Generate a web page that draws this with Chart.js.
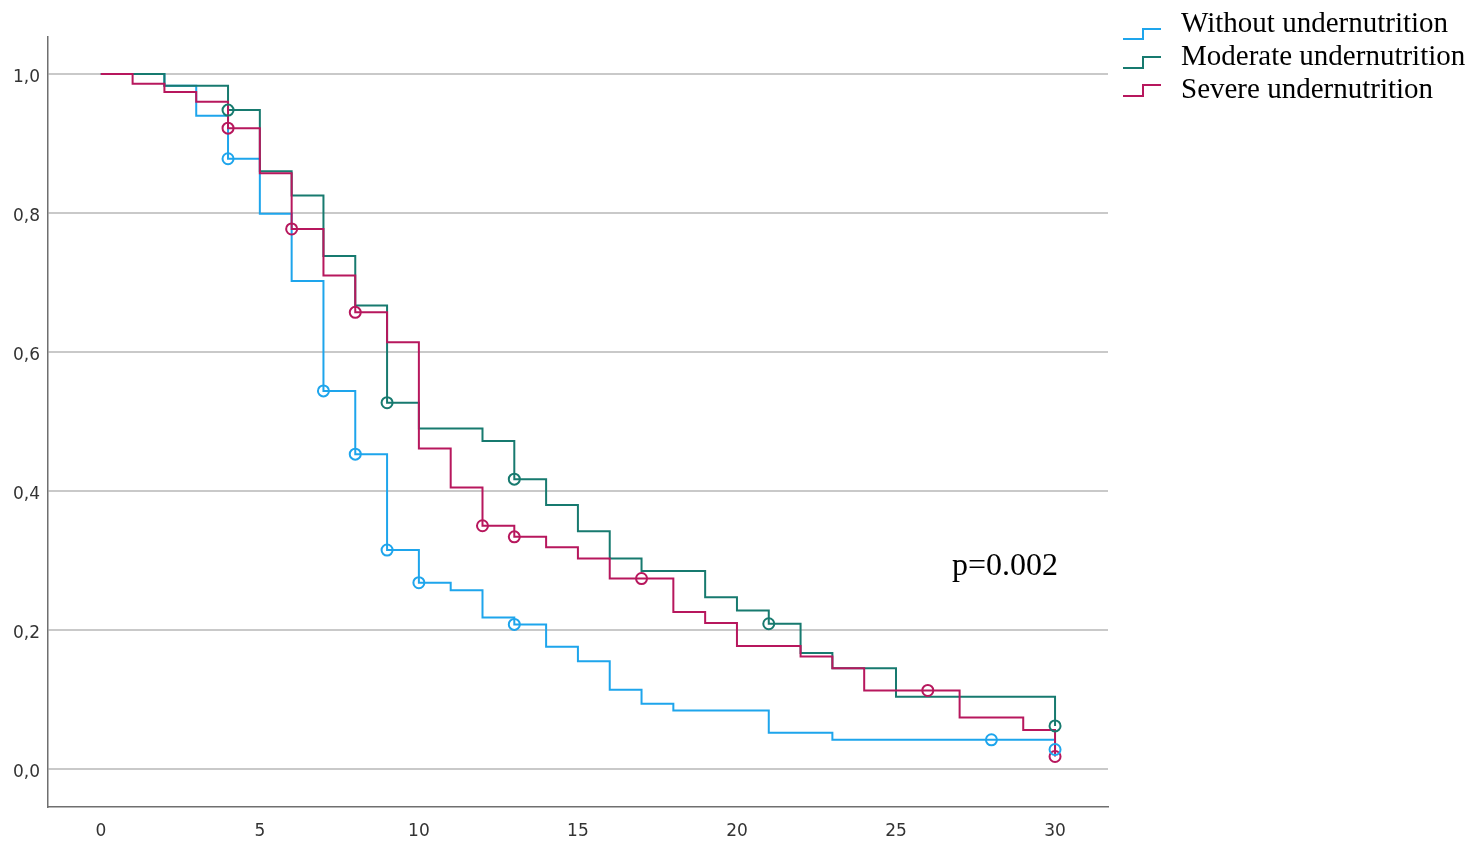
<!DOCTYPE html>
<html>
<head>
<meta charset="utf-8">
<script src="https://cdn.jsdelivr.net/npm/chart.js@4"></script>
<style>
html,body{margin:0;padding:0;background:#fff;}
#wrap{position:relative;width:1482px;height:843px;overflow:hidden;}
#c{position:absolute;left:0;top:0;}
.leg{position:absolute;left:1181px;font-family:"Liberation Serif","Times New Roman",serif;font-size:29px;line-height:29px;color:#000;white-space:nowrap;}
.pv{position:absolute;left:952px;top:548px;font-family:"Liberation Serif","Times New Roman",serif;font-size:32px;line-height:32px;color:#000;white-space:nowrap;}
#icons{position:absolute;left:0;top:0;}
</style>
</head>
<body>
<div id="wrap">
<canvas id="c" width="1482" height="843"></canvas>
<svg id="icons" width="1482" height="120">
  <polyline points="1123,39 1143,39 1143,29 1161,29" fill="none" stroke="#1ea5ec" stroke-width="2"/>
  <polyline points="1123,68 1143,68 1143,57 1161,57" fill="none" stroke="#177a6f" stroke-width="2"/>
  <polyline points="1123,96 1143,96 1143,85 1161,85" fill="none" stroke="#b7175d" stroke-width="2"/>
</svg>
<div class="leg" style="top:8px">Without undernutrition</div>
<div class="leg" style="top:41px">Moderate undernutrition</div>
<div class="leg" style="top:74px">Severe undernutrition</div>
<div class="pv">p=0.002</div>
</div>
<script>
// ---- data ----
const seriesNames = ["Without undernutrition", "Moderate undernutrition", "Severe undernutrition"];

const timesWithout = [0, 2, 3, 4, 5, 6, 7, 8, 9, 10, 11, 12, 13, 14, 15, 16, 17, 18, 21, 23, 30];
const survWithout  = [1.0, 0.983, 0.94, 0.878, 0.799, 0.702, 0.544, 0.453, 0.315, 0.268, 0.257, 0.218, 0.208, 0.176, 0.155, 0.114, 0.094, 0.084, 0.052, 0.042, 0.028];
const censTimesWithout = [4, 7, 8, 9, 10, 13, 28, 30];
const censSurvWithout  = [0.878, 0.544, 0.453, 0.315, 0.268, 0.208, 0.042, 0.028];

const timesModerate = [0, 2, 4, 5, 6, 7, 8, 9, 10, 12, 13, 14, 15, 16, 17, 19, 20, 21, 22, 23, 25, 30];
const survModerate  = [1.0, 0.983, 0.948, 0.860, 0.825, 0.738, 0.667, 0.527, 0.490, 0.472, 0.417, 0.380, 0.342, 0.303, 0.285, 0.247, 0.228, 0.209, 0.167, 0.145, 0.104, 0.062];
const censTimesModerate = [4, 9, 13, 21, 30];
const censSurvModerate  = [0.948, 0.527, 0.417, 0.209, 0.062];

const timesSevere = [0, 1, 2, 3, 4, 5, 6, 7, 8, 9, 10, 11, 12, 13, 14, 15, 16, 18, 19, 20, 22, 23, 24, 27, 29, 30];
const survSevere  = [1.0, 0.986, 0.974, 0.960, 0.922, 0.857, 0.777, 0.710, 0.657, 0.614, 0.461, 0.405, 0.350, 0.334, 0.319, 0.303, 0.274, 0.226, 0.210, 0.177, 0.162, 0.145, 0.113, 0.074, 0.056, 0.018];
const censTimesSevere = [4, 6, 8, 12, 13, 17, 26, 30];
const censSurvSevere  = [0.922, 0.777, 0.657, 0.350, 0.334, 0.274, 0.113, 0.018];

const xTicks = [0, 5, 10, 15, 20, 25, 30];
const yTicks = [0.0, 0.2, 0.4, 0.6, 0.8, 1.0];

// ---- styling ----
const BLUE = "#1ea5ec", TEAL = "#177a6f", MAG = "#b7175d";
const pts = (t, s) => t.map((x, i) => ({x: x, y: s[i]}));

function curve(label, t, s, color, order) {
  return {label: label, data: pts(t, s), borderColor: color, borderWidth: 2, stepped: true,
          pointRadius: 0, pointHoverRadius: 0, fill: false, order: order, tension: 0};
}
function cens(label, t, s, color) {
  return {label: label + " censored", data: pts(t, s), showLine: false, borderColor: color,
          backgroundColor: "rgba(0,0,0,0)", pointStyle: "circle", pointRadius: 5.5,
          pointBorderWidth: 2, pointBorderColor: color, pointBackgroundColor: "rgba(0,0,0,0)", order: 0};
}

new Chart(document.getElementById("c"), {
  type: "line",
  data: {
    datasets: [
      curve(seriesNames[2], timesSevere, survSevere, MAG, 1),
      curve(seriesNames[1], timesModerate, survModerate, TEAL, 2),
      curve(seriesNames[0], timesWithout, survWithout, BLUE, 3),
      cens(seriesNames[0], censTimesWithout, censSurvWithout, BLUE),
      cens(seriesNames[1], censTimesModerate, censSurvModerate, TEAL),
      cens(seriesNames[2], censTimesSevere, censSurvSevere, MAG)
    ]
  },
  options: {
    responsive: false,
    animation: false,
    devicePixelRatio: 1,
    layout: {padding: {left: 0, right: 374, top: 37, bottom: 0}},
    plugins: {legend: {display: false}, tooltip: {enabled: false}},
    scales: {
      x: {
        type: "linear", min: -1.66, max: 31.665,
        afterBuildTicks: s => { s.ticks = xTicks.map(v => ({value: v})); },
        afterFit: s => { s.height = 36; },
        grid: {display: false, drawTicks: false},
        border: {display: true, color: "#6f6f6f", width: 1.5},
        ticks: {color: "#333", font: {family: "DejaVu Sans", size: 17}, padding: 14,
                maxRotation: 0, autoSkip: false, callback: v => String(v)}
      },
      y: {
        type: "linear", min: -0.0547, max: 1.0532,
        afterBuildTicks: s => { s.ticks = yTicks.map(v => ({value: v})); },
        afterFit: s => { s.width = 48; },
        grid: {color: "#c9c9c9", lineWidth: 2, drawTicks: false},
        border: {display: true, color: "#6f6f6f", width: 1.5},
        ticks: {color: "#333", font: {family: "DejaVu Sans", size: 17}, padding: 8, labelOffset: 4,
                callback: v => v.toFixed(1).replace(".", ",")}
      }
    }
  }
});
</script>
</body>
</html>
